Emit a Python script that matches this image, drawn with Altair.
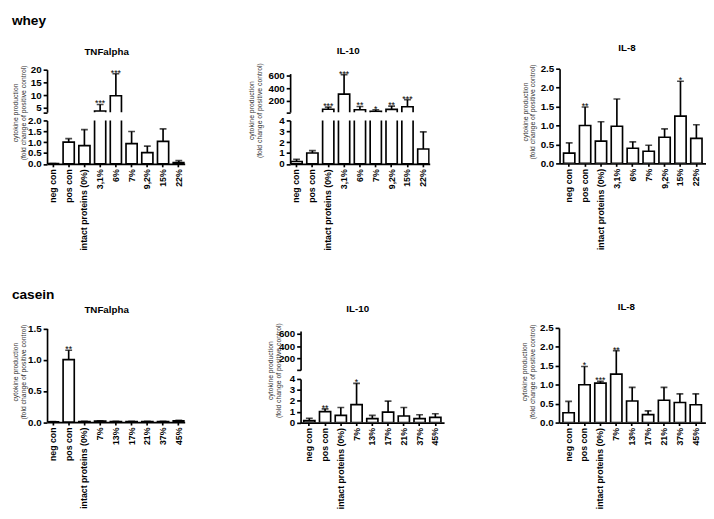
import altair as alt
import pandas as pd

FONT = "Liberation Sans"

whey_cats = ["neg con", "pos con", "intact proteins (0%)", "3,1%", "6%", "7%", "9,2%", "15%", "22%"]
casein_cats = ["neg con", "pos con", "intact proteins (0%)", "7%", "13%", "17%", "21%", "37%", "45%"]

whey_tnf_mean = [0.01, 1.0, 0.84, 3.85, 9.8, 0.93, 0.52, 1.04, 0.06]
whey_tnf_err = [0.015, 1.16, 1.58, 6.4, 18.4, 1.49, 0.82, 1.61, 0.15]
whey_tnf_sig = ["", "", "", "***", "***", "", "", "", ""]

whey_il10_mean = [0.22, 1.0, 70, 306, 63, 37, 68, 109, 1.37]
whey_il10_err = [0.42, 1.22, 104, 610, 113, 63, 119, 219, 2.95]
whey_il10_sig = ["", "", "***", "***", "**", "*", "**", "***", ""]

whey_il8_mean = [0.27, 1.0, 0.59, 0.98, 0.40, 0.32, 0.69, 1.25, 0.66]
whey_il8_err = [0.54, 1.49, 1.10, 1.70, 0.57, 0.48, 0.91, 2.17, 1.02]
whey_il8_sig = ["", "**", "", "", "", "", "", "*", ""]

casein_tnf_mean = [0.005, 1.0, 0.01, 0.015, 0.01, 0.01, 0.01, 0.01, 0.02]
casein_tnf_err = [0.008, 1.15, 0.012, 0.02, 0.012, 0.012, 0.012, 0.012, 0.03]
casein_tnf_sig = ["", "**", "", "", "", "", "", "", ""]

casein_il10_mean = [0.18, 1.0, 0.66, 1.65, 0.36, 0.96, 0.6, 0.36, 0.48]
casein_il10_err = [0.4, 1.25, 1.38, 3.6, 0.66, 1.97, 1.38, 0.72, 0.81]
casein_il10_sig = ["", "**", "", "*", "", "", "", "", ""]

casein_il8_mean = [0.26, 1.0, 1.04, 1.28, 0.57, 0.21, 0.59, 0.53, 0.47]
casein_il8_err = [0.56, 1.48, 1.09, 1.9, 0.93, 0.31, 0.93, 0.76, 0.76]
casein_il8_sig = ["", "*", "***", "**", "", "", "", "", ""]

YT = ["cytokine production", "(fold change of positive control)"]
LW = 1.7


def frame(cats, mean, err, sig):
    return pd.DataFrame({"cat": cats, "mean": mean, "err": err, "sig": sig})


def xaxis(ext=None):
    kw = dict(title=None, labelAngle=-90, labelFontSize=9, tickSize=3, labelPadding=2)
    if ext is not None:
        kw.update(title=" ", titleX=ext, titleY=0, titleAlign="left", titleFontSize=7)
    return alt.Axis(**kw)


def seg(df, cats, W, H, po, ydom, yaxis, xax, title=None, top=0):
    lo, hi = ydom
    x = alt.X("cat:N", scale=alt.Scale(domain=cats, paddingInner=0.29, paddingOuter=po), axis=xax)
    ysc = alt.Scale(domain=ydom, range=[H, top], nice=False, zero=False)

    def Y(f):
        return alt.Y(f, type="quantitative", scale=ysc, axis=yaxis)

    base = alt.Chart(df)
    bars = base.mark_bar(fill="white", stroke="black", strokeWidth=LW, clip=True).encode(
        x=x, y=Y("mean"), y2=alt.datum(0)).transform_filter(f"datum.mean > {lo}")
    rules = base.mark_rule(color="black", strokeWidth=LW, clip=True).encode(
        x=x, y=Y("mean"), y2=alt.Y2("err")).transform_filter(f"datum.err > {lo} && datum.mean < {hi}")
    caps = base.mark_tick(color="black", thickness=LW, size=7, orient="horizontal", clip=True).encode(
        x=x, y=Y("err")).transform_filter(f"datum.err > {lo} && datum.err <= {hi}")
    stars = base.mark_text(font=FONT, fontSize=9, color="black", baseline="alphabetic", dy=2).encode(
        x=x, y=Y("err"), text="sig:N").transform_filter(
        f"datum.sig != '' && datum.err >= {lo} && datum.err <= {hi}")
    props = dict(width=W, height=H)
    if title is not None:
        props["title"] = title
    return alt.layer(bars, rules, caps, stars).properties(**props)


def ptitle(text, offset, dx):
    return alt.Title(text, frame="group", anchor="middle", baseline="top", offset=offset, dx=dx)


def simple(df, cats, W, H, top, po, dom, vals, fmt, title, toff, tdx, tx, ty, ext=None):
    yax = alt.Axis(values=vals, format=fmt, title=YT, titleX=tx, titleY=ty, titleBaseline="middle")
    return seg(df, cats, W, H, po, dom, yax, xaxis(ext), ptitle(title, toff, tdx), top=top)


def broken(df, cats, W, po, up_dom, up_h, up_top, up_vals, up_cut, lo_dom, lo_h, lo_vals, lo_fmt,
           gap, title, toff, tdx, tx, ty, ext=None):
    up_ax = alt.Axis(values=up_vals, format="d", title=None,
                     labelExpr=f"datum.value < {up_cut} ? '' : datum.label")
    lo_ax = alt.Axis(values=lo_vals, format=lo_fmt, title=YT, titleX=tx, titleY=ty, titleBaseline="middle")
    upper = seg(df, cats, W, up_h, po, up_dom, up_ax, None, ptitle(title, toff, tdx), top=up_top)
    lower = seg(df, cats, W, lo_h, po, lo_dom, lo_ax, xaxis(ext))
    return alt.vconcat(upper, lower, spacing=gap, bounds="flush").resolve_scale(y="independent", x="independent")


# ---- whey row ----
w_tnf = broken(frame(whey_cats, whey_tnf_mean, whey_tnf_err, whey_tnf_sig), whey_cats, 141, 0.02,
               [3.4, 20], 44.5, 1, [3.4, 5, 10, 15, 20], 4,
               [0, 2], 44.5, [0, 0.5, 1, 1.5, 2], ".1f",
               8, "TNFalpha", 8.5, -9.5, -32, -8.2)
w_il10 = broken(frame(whey_cats, whey_il10_mean, whey_il10_err, whey_il10_sig), whey_cats, 143, 0.05,
                [25, 626], 44.5, 5, [25, 200, 400, 600], 100,
                [0, 4], 44.5, [0, 1, 2, 3, 4], "d",
                8, "IL-10", 13, -12, -39, -10.5, ext=171.7)
w_il8 = simple(frame(whey_cats, whey_il8_mean, whey_il8_err, whey_il8_sig), whey_cats, 150, 97, 0, 0.25,
               [0, 2.5], [0, 0.5, 1, 1.5, 2, 2.5], ".1f", "IL-8", 11.5, -6, -35.3, 43.8)

# ---- casein row ----
c_tnf = simple(frame(casein_cats, casein_tnf_mean, casein_tnf_err, casein_tnf_sig), casein_cats, 141, 96.5, 0.5,
               0.02, [0, 1.5], [0, 0.5, 1, 1.5], ".1f", "TNFalpha", 9, -9.5, -32, 44.8, ext=152.6)
c_il10 = broken(frame(casein_cats, casein_il10_mean, casein_il10_err, casein_il10_sig), casein_cats, 147, 0.2,
                [18, 640], 43.2, 3.2, [18, 200, 400, 600], 100,
                [0, 4], 44.7, [0, 1, 2, 3, 4], "d",
                8.3, "IL-10", 14.5, -15, -30.7, -9, ext=153)
c_il8 = simple(frame(casein_cats, casein_il8_mean, casein_il8_err, casein_il8_sig), casein_cats, 150, 97, 0,
               0.25, [0, 2.5], [0, 0.5, 1, 1.5, 2, 2.5], ".1f", "IL-8", 11, -6, -35.3, 44.5)

row1 = alt.hconcat(w_tnf, w_il10, w_il8, spacing=64,
                   title=alt.Title("whey", anchor="start", frame="bounds", fontSize=14,
                                   offset=15.5, baseline="top"))
row2 = alt.hconcat(c_tnf, c_il10, c_il8, spacing=71.7,
                   title=alt.Title("casein", anchor="start", frame="bounds", fontSize=14,
                                   offset=0.5, baseline="top"))

chart = alt.vconcat(row1, row2, spacing=37.5).properties(
    padding={"left": 3, "top": 0, "right": 0, "bottom": 0}
).configure_axis(
    labelFont=FONT, titleFont=FONT, labelFontWeight="bold", labelColor="black", labelFontSize=10,
    labelPadding=2, domainColor="black", domainWidth=LW, tickColor="black", tickWidth=LW,
    tickSize=4, grid=False, titleFontSize=7, titleFontWeight="normal", titleColor="#333",
    titleLineHeight=8
).configure_view(stroke=None).configure_title(
    font=FONT, fontSize=10, fontWeight="bold", color="black"
)

chart.save("out.html", embed_options={"renderer": "svg", "actions": False})
